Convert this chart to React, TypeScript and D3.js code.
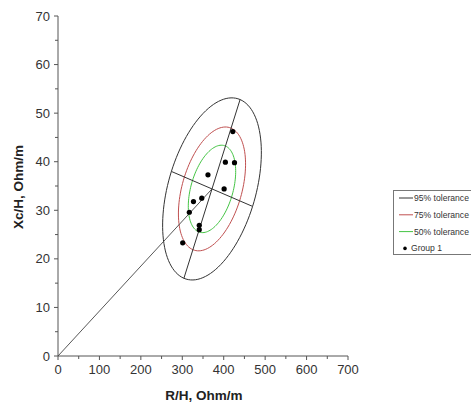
import React from "react";
import * as d3 from "d3";

const pointsR = [422, 404, 426, 362, 401, 347, 327, 317, 341, 341, 301];
const pointsX = [46.2, 39.9, 39.8, 37.3, 34.4, 32.5, 31.8, 29.6, 26.9, 26.0, 23.3];

const ellipseCenter = [371.7, 34.4];
const majorSemiAxis = [67.8, 18.4];
const minorSemiAxis = [98, -3.6];

const toleranceLabels = ["95% tolerance", "75% tolerance", "50% tolerance"];
const toleranceScale = [1, 0.68, 0.48];
const toleranceColors = ["#333333", "#c05050", "#44c444"];

const xTicks = [0, 100, 200, 300, 400, 500, 600, 700];
const xMinor = [50, 150, 250, 350, 450, 550, 650];
const yTicks = [0, 10, 20, 30, 40, 50, 60, 70];
const yMinor = [5, 15, 25, 35, 45, 55, 65];

export default function App() {
  const x = d3.scaleLinear().domain([0, 700]).range([58, 348]);
  const y = d3.scaleLinear().domain([0, 70]).range([356, 16]);
  const font = "'Liberation Sans', Arial, sans-serif";

  const ellipsePath = (s: number) => {
    const pts: [number, number][] = d3.range(0, 361, 3).map((deg) => {
      const t = (deg * Math.PI) / 180;
      const dx = s * (majorSemiAxis[0] * Math.cos(t) + minorSemiAxis[0] * Math.sin(t));
      const dy = s * (majorSemiAxis[1] * Math.cos(t) + minorSemiAxis[1] * Math.sin(t));
      return [x(ellipseCenter[0] + dx), y(ellipseCenter[1] + dy)];
    });
    return d3.line().curve(d3.curveLinearClosed)(pts) || "";
  };

  const [cx, cy] = ellipseCenter;
  const legendRows = [...toleranceLabels, "Group 1"];

  return (
    <svg
      width={471}
      height={408}
      style={{ position: "absolute", left: 0, top: 0, background: "#fff" }}
      fontFamily={font}
    >
      {/* axes */}
      <line x1={x(0)} x2={x(0)} y1={y(0)} y2={y(70)} stroke="#555" strokeWidth={1} />
      <line x1={x(0)} x2={x(700)} y1={y(0)} y2={y(0)} stroke="#555" strokeWidth={1} />
      {yTicks.map((t) => (
        <g key={"yt" + t}>
          <line x1={x(0) - 4} x2={x(0)} y1={y(t)} y2={y(t)} stroke="#555" />
          <text x={x(0) - 8} y={y(t)} dy="0.35em" textAnchor="end" fontSize={13} fill="#333">
            {t}
          </text>
        </g>
      ))}
      {yMinor.map((t) => (
        <line key={"ym" + t} x1={x(0) - 3} x2={x(0)} y1={y(t)} y2={y(t)} stroke="#555" />
      ))}
      {xTicks.map((t) => (
        <g key={"xt" + t}>
          <line x1={x(t)} x2={x(t)} y1={y(0)} y2={y(0) + 4} stroke="#555" />
          <text x={x(t)} y={y(0) + 18} textAnchor="middle" fontSize={13} fill="#333">
            {t}
          </text>
        </g>
      ))}
      {xMinor.map((t) => (
        <line key={"xm" + t} x1={x(t)} x2={x(t)} y1={y(0)} y2={y(0) + 3} stroke="#555" />
      ))}
      <text x={204} y={400} textAnchor="middle" fontSize={13.5} fontWeight="bold" fill="#222">
        R/H, Ohm/m
      </text>
      <text
        transform={`translate(23,187) rotate(-90)`}
        textAnchor="middle"
        fontSize={13.5}
        fontWeight="bold"
        fill="#222"
      >
        Xc/H, Ohm/m
      </text>

      {/* ellipses */}
      {toleranceScale.map((s, i) => (
        <path key={"e" + i} d={ellipsePath(s)} fill="none" stroke={toleranceColors[i]} strokeWidth={1} />
      ))}
      {/* axes of ellipse */}
      <line
        x1={x(cx + majorSemiAxis[0])}
        y1={y(cy + majorSemiAxis[1])}
        x2={x(cx - majorSemiAxis[0])}
        y2={y(cy - majorSemiAxis[1])}
        stroke="#333"
        strokeWidth={1}
      />
      <line
        x1={x(cx + minorSemiAxis[0])}
        y1={y(cy + minorSemiAxis[1])}
        x2={x(cx - minorSemiAxis[0])}
        y2={y(cy - minorSemiAxis[1])}
        stroke="#333"
        strokeWidth={1}
      />
      <line x1={x(0)} y1={y(0)} x2={x(cx)} y2={y(cy)} stroke="#444" strokeWidth={0.9} />

      {/* points */}
      {pointsR.map((r, i) => (
        <circle key={"p" + i} cx={x(r)} cy={y(pointsX[i])} r={2.6} fill="#000" />
      ))}

      {/* legend */}
      <rect x={393.5} y={190.5} width={80} height={64} fill="#fff" stroke="#777" strokeWidth={1} />
      {legendRows.map((lab, i) => {
        const ly = 198 + i * 16.8;
        return (
          <g key={"l" + i}>
            {i < 3 ? (
              <line x1={399} x2={413} y1={ly} y2={ly} stroke={toleranceColors[i]} strokeWidth={1} />
            ) : (
              <circle cx={405} cy={ly} r={1.8} fill="#000" />
            )}
            <text x={i < 3 ? 414 : 411} y={ly} dy="0.35em" fontSize={8.6} fill="#333">
              {lab}
            </text>
          </g>
        );
      })}
    </svg>
  );
}
